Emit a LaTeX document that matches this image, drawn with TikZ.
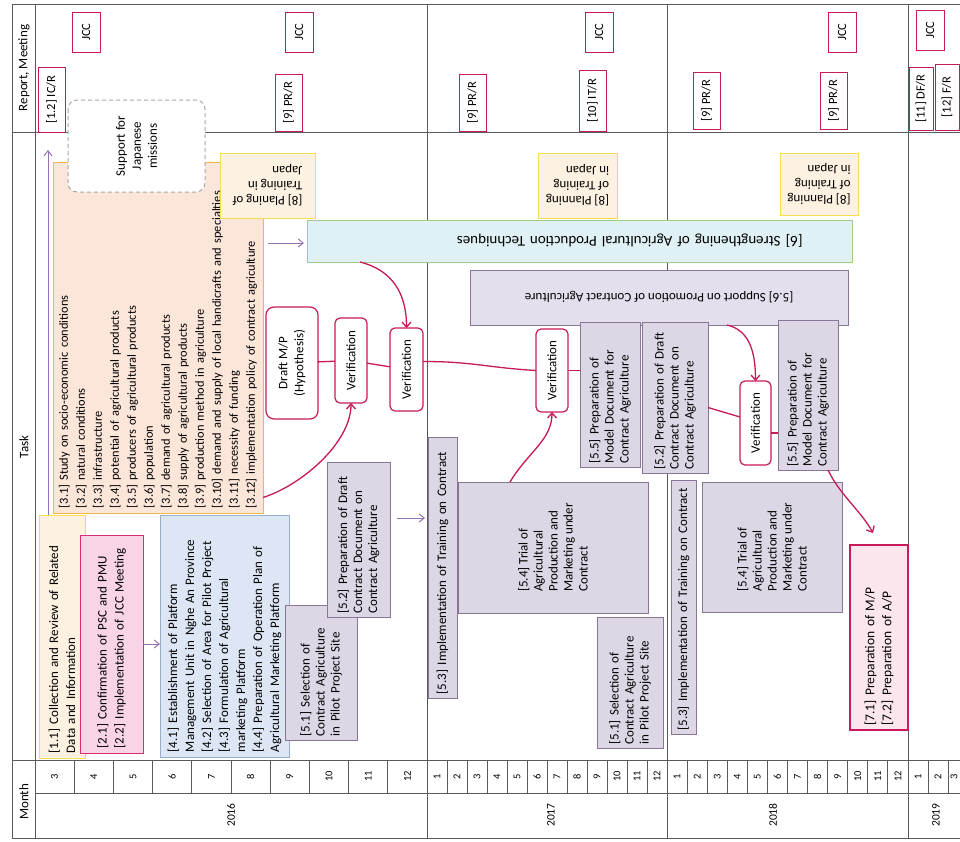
\documentclass[tikz,border=0pt]{standalone}
\usepackage{fontspec}
\setmainfont{Carlito}
\usetikzlibrary{arrows.meta,calc}
\definecolor{crim}{RGB}{200,25,90}
\definecolor{purp}{RGB}{150,115,180}
\definecolor{tline}{RGB}{90,90,90}
\definecolor{peach}{RGB}{252,230,218}
\definecolor{orangeb}{RGB}{240,185,70}
\definecolor{yelb}{RGB}{250,220,80}
\definecolor{lightyel}{RGB}{253,241,226}
\definecolor{pinkf}{RGB}{248,212,230}
\definecolor{magb}{RGB}{215,45,115}
\definecolor{bluef}{RGB}{220,230,244}
\definecolor{blueb}{RGB}{150,175,205}
\definecolor{lavf}{RGB}{221,215,229}
\definecolor{lavb}{RGB}{135,118,148}
\definecolor{cyanf}{RGB}{224,241,246}
\definecolor{greenb}{RGB}{160,205,140}
\definecolor{lavtwo}{RGB}{229,223,237}
\definecolor{pinktwo}{RGB}{252,230,238}
\begin{document}
\begin{tikzpicture}[x=1pt,y=-1pt,
  tl/.style={draw=tline, line width=0.9pt},
  base/.style={draw, line width=0.8pt, inner sep=3pt, outer sep=0pt, font=\fontsize{13}{15}\selectfont},
  rb/.style={base, rotate=90, align=left},
  rc/.style={base, rotate=90, align=center},
  ub/.style={base, rotate=180, align=left},
  sz/.style 2 args={minimum width=#2, minimum height=#1},
  usz/.style 2 args={minimum width=#1, minimum height=#2},
  rep/.style={rc, draw=crim, fill=white, line width=1pt, inner sep=1pt, font=\fontsize{12.5}{14}\selectfont},
  verif/.style={rc, draw=crim, fill=white, line width=1.2pt, rounded corners=5pt},
  taskfive/.style={rb, draw=lavb, fill=lavf, line width=0.9pt},
  bigtext/.style={font=\fontsize{13}{17}\selectfont},
  hdr/.style={rotate=90, inner sep=0pt, font=\fontsize{13}{15}\selectfont},
  mon/.style={rotate=90, inner sep=0pt, font=\fontsize{10.5}{12}\selectfont},
  rl/.style={draw=crim, line width=1.3pt},
  ra/.style={rl, -{Straight Barb[length=5pt,width=9pt]}},
  pa/.style={draw=purp, line width=1pt, -{Straight Barb[length=5pt,width=8pt]}}
]
\useasboundingbox (0,0) rectangle (960,841);
\fill[white] (0,0) rectangle (960,841);

% ---------- table ----------
\draw[tl] (12,4) -- (960,4);
\draw[tl] (12,838) -- (960,838);
\draw[tl] (12,4) -- (12,838);
\draw[tl] (35,4) -- (35,838);
\draw[tl] (12,132) -- (960,132);
\draw[tl] (12,760) -- (960,760);
\draw[tl] (35,793) -- (960,793);
\foreach \x in {427,667,908} \draw[tl] (\x,4) -- (\x,838);
\foreach \i in {1,...,9} \draw[tl] ({35+39.2*\i},760) -- ({35+39.2*\i},793);
\foreach \i in {1,...,11} \draw[tl] ({427+20*\i},760) -- ({427+20*\i},793);
\foreach \i in {1,...,11} \draw[tl] ({667+20.08*\i},760) -- ({667+20.08*\i},793);
\foreach \i in {1,2,3} \draw[tl] ({908+20*\i},760) -- ({908+20*\i},793);

\foreach \m [count=\i] in {3,4,5,6,7,8,9,10,11,12}
  \node[mon] (ma\i) at ({35+39.2*(\i-0.5)},776.5) {\m};
\foreach \m [count=\i] in {1,2,3,4,5,6,7,8,9,10,11,12}
  \node[mon] (mb\i) at ({427+20*(\i-0.5)},776.5) {\m};
\foreach \m [count=\i] in {1,2,3,4,5,6,7,8,9,10,11,12}
  \node[mon] (mc\i) at ({667+20.08*(\i-0.5)},776.5) {\m};
\node[mon] (md1) at (918,776.5) {1};
\node[mon] (md2) at (938,776.5) {2};
\node[mon] (md3) at (954,776.5) {3};

\node[mon, font=\fontsize{11.5}{13}\selectfont] (y16) at (231,815) {2016};
\node[mon, font=\fontsize{11.5}{13}\selectfont] (y17) at (551,815) {2017};
\node[mon, font=\fontsize{11.5}{13}\selectfont] (y18) at (773,815) {2018};
\node[mon, font=\fontsize{11.5}{13}\selectfont] (y19) at (936,815) {2019};

\node[hdr] (hrep) at (24,68) {Report, Meeting};
\node[hdr] (htask) at (24,447) {Task};
\node[hdr] (hmonth) at (24,802) {Month};

% ---------- report / meeting ----------
\node[rep, sz={28}{40}] (jcc1) at (86,32) {JCC};
\node[rep, sz={28}{40}] (jcc2) at (299,32) {JCC};
\node[rep, sz={28}{40}] (jcc3) at (599,32) {JCC};
\node[rep, sz={28}{40}] (jcc4) at (842,32) {JCC};
\node[rep, sz={28}{40}] (jcc5) at (930,30) {JCC};
\node[rep, sz={27}{65}] (icr) at (51.5,99.5) {[1.2] IC/R};
\node[rep, sz={27}{57}] (prr1) at (288.5,102.5) {[9] PR/R};
\node[rep, sz={27}{57}] (prr2) at (472.5,102.5) {[9] PR/R};
\node[rep, sz={27}{61}] (itr) at (592.5,100.5) {[10] IT/R};
\node[rep, sz={27}{57}] (prr3) at (706.5,100.5) {[9] PR/R};
\node[rep, sz={27}{57}] (prr4) at (833.5,100.5) {[9] PR/R};
\node[rep, sz={24}{63}] (dfr) at (921,98.5) {[11] DF/R};
\node[rep, sz={24}{66}] (fr) at (947,97) {[12] F/R};

% ---------- tasks ----------
\node[rb, draw=orangeb, fill=peach, line width=1pt, sz={210}{351}, text width=341,
      font=\fontsize{12.4}{17}\selectfont] (p3) at (158,337.5)
 {[3.1] Study on socio-economic conditions\\{}[3.2] natural conditions\\{}[3.3] infrastructure\\{}[3.4] potential of agricultural products\\{}[3.5] producers of agricultural products\\{}[3.6] population\\{}[3.7] demand of agricultural  products\\{}[3.8] supply of agricultural products\\{}[3.9] production method in agriculture\\{}[3.10] demand and supply of local handicrafts and specialties\\{}[3.11] necessity of funding\\{}[3.12] implementation policy of contract agriculture};

\node[rc, draw=gray!70, fill=white, dash pattern=on 4pt off 3pt, rounded corners=9pt,
      line width=1pt, sz={137}{92}, font=\fontsize{13}{16}\selectfont] (sup) at (136.5,146) {Support for\\Japanese\\missions};

\node[ub, draw=yelb, fill=lightyel, line width=1pt, usz={95}{65}] (p8a) at (267.5,185.5) {[8] Planing of\\Training in\\Japan};
\node[ub, draw=yelb, fill=lightyel, line width=1pt, usz={79}{65}] (p8b) at (577.5,185.5) {[8] Planning\\of Training\\in Japan};
\node[ub, draw=yelb, fill=lightyel, line width=1pt, usz={78}{62}] (p8c) at (819,184) {[8] Planning\\of Training\\in Japan};

\node[ub, draw=greenb, fill=cyanf, line width=1pt, usz={545}{42}, text width=530,
      font=\fontsize{15}{17}\selectfont] (p6) at (579.5,241) {\hspace*{42pt}[6] Strengthening of Agricultural Production Techniques};
\node[ub, draw=lavb, fill=lavtwo, line width=1pt, usz={378}{55}] (p56) at (659,297.5) {[5.6] Support on Promotion of Contract Agriculture};

\node[rb, bigtext, draw=yelb, fill=lightyel, line width=1pt, sz={46}{243}, text width=233] (p11) at (62,636.5) {[1.1] Collection and Review of Related\\Data and Information};
\node[rb, bigtext, draw=magb, fill=pinkf, line width=1pt, sz={63}{218}, text width=208] (p21) at (111.5,644) {[2.1] Confirmation of PSC and PMU\\{}[2.2] Implementation of JCC Meeting};
\node[rb, bigtext, draw=blueb, fill=bluef, line width=1pt, sz={129}{242}, text width=232] (p41) at (224.5,636)
 {[4.1] Establishment of Platform\\Management Unit in Nghe An Province\\{}[4.2] Selection of Area for Pilot Project\\{}[4.3] Formulation of Agricultural\\marketing Platform\\{}[4.4] Preparation of Operation Plan of\\Agricultural Marketing Platform};

\node[taskfive, sz={72}{135}, text width=127] (p51a) at (321,672.5) {[5.1] Selection of\\Contract Agriculture\\in Pilot Project Site};
\node[taskfive, sz={63}{155}, text width=148] (p52a) at (358.5,539.5) {[5.2] Preparation of Draft\\Contract Document on\\Contract Agriculture};
\node[taskfive, sz={29}{261}, text width=253] (p53a) at (442.5,567.5) {[5.3] Implementation of Training on Contract};
\node[taskfive, sz={190}{131}] (p54a) at (553,547.5) {[5.4] Trial of\\Agricultural\\Production and\\Marketing under\\Contract};
\node[taskfive, sz={66}{131}, text width=124] (p51b) at (630,682.5) {[5.1] Selection of\\Contract Agriculture\\in Pilot Project Site};
\node[taskfive, sz={60}{145}, text width=138] (p55a) at (610,394.5) {[5.5] Preparation of\\Model Document for\\Contract Agriculture};
\node[taskfive, sz={66}{151}, text width=144] (p52b) at (675,397.5) {[5.2] Preparation of Draft\\Contract Document on\\Contract Agriculture};
\node[taskfive, sz={25}{254}, text width=247] (p53b) at (683.5,607) {[5.3] Implementation of Training on Contract};
\node[taskfive, sz={140}{130}] (p54b) at (772,547) {[5.4] Trial of\\Agricultural\\Production and\\Marketing under\\Contract};
\node[taskfive, sz={60}{150}, text width=143] (p55b) at (808,395) {[5.5] Preparation of\\Model Document for\\Contract Agriculture};

\node[rb, draw=crim, fill=pinktwo, line width=1.2pt, sz={58}{185}, text width=176,
      font=\fontsize{13.5}{17}\selectfont] (p71) at (879,637.5) {[7.1] Preparation of M/P\\{}[7.2] Preparation of A/P};

\node[verif, rounded corners=8pt, sz={52}{112}, font=\fontsize{13}{16}\selectfont] (draft) at (292,363) {Draft M/P\\(Hypothesis)};
\node[verif, sz={32}{85}] (ver1) at (351,360.5) {Verification};
\node[verif, sz={33}{83}] (ver2) at (406.5,369.5) {Verification};
\node[verif, sz={32}{83}] (ver4) at (552,370.5) {Verification};
\node[verif, sz={31}{84}] (ver3) at (755.5,423) {Verification};

% ---------- red connectors ----------
\draw[rl] (draft) -- (ver1);
\draw[rl] (ver1) -- (ver2);
\draw[rl] ([yshift=8pt]ver2.south) .. controls +(50,0) and +(-50,-3) .. (ver4.north);
\draw[rl] (ver4.south) -- (ver4.south -| p55a.north);
\draw[ra] ([xshift=-219.5pt]p6.north) .. controls +(32,8) and +(0,-35) .. (ver2.east);
\draw[ra] ([yshift=-160pt]p3.south) .. controls +(38,-12) and +(0,40) .. (ver1.west);
\draw[ra] ([xshift=-43pt]p54a.east) .. controls +(18,-30) and +(0,28) .. (ver4.west);
\draw[ra] ([xshift=68pt]p56.north) .. controls +(22,5) and +(0,-30) .. (ver3.east);
\draw[rl] ([yshift=-10pt]p52b.south) -- ([yshift=6pt]ver3.north);
\draw[rl] ([yshift=-10pt]ver3.south) -- ([yshift=-10pt]ver3.south -| p55b.north);
\draw[ra] ([xshift=20pt]p55b.west) .. controls +(12,25) and +(-12,-22) .. ([shift={(-6pt,12pt)}]p71.east);

% ---------- purple arrows ----------
\coordinate (pt11) at (48,150);
\draw[pa] ([xshift=-14pt]p11.east) -- (pt11);
\draw[pa] (p21.south) -- (p21.south -| p41.north);
\coordinate (a3) at ([shift={(5pt,94.5pt)}]p3.south);
\draw[pa, shorten >=3pt] (a3) -- (a3 -| p6.east);
\coordinate (a52) at ([shift={(7pt,21.5pt)}]p52a.south);
\draw[pa, shorten >=3pt] (a52) -- (a52 -| p53a.north);
\end{tikzpicture}
\end{document}
